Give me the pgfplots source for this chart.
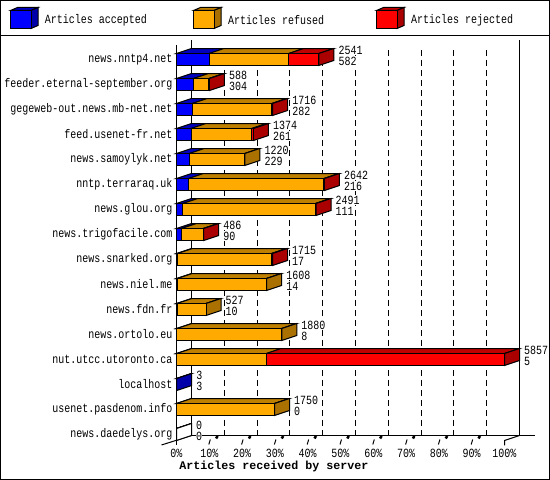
\documentclass[border=0pt]{standalone}
\usepackage{fontspec}
\setmainfont{Liberation Mono}
\newfontfamily\chartfont[FakeStretch=0.8]{Liberation Mono}
\usepackage{pgfplots}
\usepackage{pgfplotstable}
\pgfplotsset{compat=1.18}

\definecolor{bluefront}{HTML}{0000FF}
\definecolor{bluetop}{HTML}{0000BF}
\definecolor{blueside}{HTML}{0000AA}
\definecolor{orangefront}{HTML}{FFAA00}
\definecolor{orangetop}{HTML}{BF8000}
\definecolor{orangeside}{HTML}{AA7100}
\definecolor{redfront}{HTML}{FF0000}
\definecolor{redtop}{HTML}{BF0000}
\definecolor{redside}{HTML}{AA0000}

\newcommand{\smalltext}{\chartfont\fontsize{12.5}{12.5}\selectfont}

% total is what the chart prints, accepted too; the split of the rest is read off the bars
\pgfplotstableread{
row host                         accepted refused rejected total
1   news.nntp4.net               582      1423    536      2541
2   feeder.eternal-september.org 304      274     10       588
3   gegeweb-out.news.mb-net.net  282      1418    16       1716
4   feed.usenet-fr.net           261      1082    31       1374
5   news.samoylyk.net            229      991     0        1220
6   nntp.terraraq.uk             216      2416    10       2642
7   news.glou.org                111      2370    10       2491
8   news.trigofacile.com         90       388     8        486
9   news.snarked.org             17       1678    20       1715
10  news.niel.me                 14       1594    0        1608
11  news.fdn.fr                  10       517     0        527
12  news.ortolo.eu               8        1872    0        1880
13  nut.utcc.utoronto.ca         5        1600    4252     5857
14  localhost                    3        0       0        3
15  usenet.pasdenom.info         0        1750    0        1750
16  news.daedelys.org            0        0       0        0
}\servers

% depth of the fake 3D: 15px to the right and 5px up, in data units
\pgfmathsetmacro{\dx}{15/328*5857}

\newcommand{\face}[2]{% fill, list of corners
  \addplot[draw=black, line width=1pt, fill=#1] coordinates {#2} -- cycle;}

\tikzset{valuelabel/.style={anchor=west, inner xsep=0pt, inner ysep=0pt,
  minimum height=10.5pt, fill=white, xshift=4.5pt, font=\smalltext}}

\newcommand{\depthfaces}[1]{%
  \pgfplotstablegetelem{#1}{accepted}\of\servers \let\va\pgfplotsretval
  \pgfplotstablegetelem{#1}{refused}\of\servers  \let\vf\pgfplotsretval
  \pgfplotstablegetelem{#1}{rejected}\of\servers \let\vj\pgfplotsretval
  \pgfplotstablegetelem{#1}{total}\of\servers    \let\vt\pgfplotsretval
  \pgfmathsetmacro{\ft}{#1+1-0.24}% front top
  \pgfmathsetmacro{\bt}{#1+1-0.44}% back top
  \pgfmathsetmacro{\fb}{#1+1+0.24}% front bottom
  \pgfmathsetmacro{\bb}{#1+1+0.04}% back bottom
  \pgfmathsetmacro{\xa}{\va}%
  \pgfmathsetmacro{\xf}{\va+\vf}%
  \pgfmathsetmacro{\xj}{\va+\vf+\vj}%
  \pgfmathsetmacro{\bo}{\dx}%
  \pgfmathsetmacro{\bxa}{\xa+\dx}%
  \pgfmathsetmacro{\bxf}{\xf+\dx}%
  \pgfmathsetmacro{\bxj}{\xj+\dx}%
  \def\sidecolor{white}%
  \ifdim\va pt>0pt \def\sidecolor{blueside}\fi
  \ifdim\vf pt>0pt \def\sidecolor{orangeside}\fi
  \ifdim\vj pt>0pt \def\sidecolor{redside}\fi
  \edef\temp{%
    \noexpand\face{bluetop}{(0,\ft) (\xa,\ft) (\bxa,\bt) (\bo,\bt)}%
    \noexpand\face{orangetop}{(\xa,\ft) (\xf,\ft) (\bxf,\bt) (\bxa,\bt)}%
    \noexpand\face{redtop}{(\xf,\ft) (\xj,\ft) (\bxj,\bt) (\bxf,\bt)}%
    \noexpand\face{\sidecolor}{(\xj,\ft) (\bxj,\bt) (\bxj,\bb) (\xj,\fb)}%
  }\temp
  \pgfmathsetmacro{\ltop}{#1+1-0.38}%
  \pgfmathsetmacro{\lbot}{#1+1+0.06}%
  \edef\temp{%
    \noexpand\node[valuelabel] at (axis cs:\bxj,\ltop) {\vt};
    \noexpand\node[valuelabel] at (axis cs:\bxj,\lbot) {\va};
  }\temp
}

\pgfplotsset{
  every axis plot/.append style={line width=1pt},
  chartbox/.style={
    at={(176.5pt,39.5pt)}, anchor=south west,
    scale only axis, width=328pt, height=400pt,
    xmin=0, xmax=5857, ymin=0.24, ymax=16.24,
    y dir=reverse, clip=false,
  },
}

\begin{document}
\begin{tikzpicture}[line width=1pt]
\useasboundingbox (0,0) rectangle (550pt,480pt);
\begin{scope}[shift={(0pt,480pt)}, x=1pt, y=-1pt]
  \draw (0.5,0.5) rectangle (549.5,479.5);
  \draw (0,35.5) -- (550,35.5);
  % legend
  \foreach \lx/\front/\top/\side/\name in {
    10.5/bluefront/bluetop/blueside/Articles accepted,
    193.5/orangefront/orangetop/orangeside/Articles refused,
    376.5/redfront/redtop/redside/Articles rejected}{
    \draw[fill=\top] (\lx,10.5) -- ++(7,-3) -- ++(20.5,0) -- ++(-7,3) -- cycle;
    \draw[fill=\side] (\lx+20.5,10.5) -- ++(7,-3) -- ++(0,18) -- ++(-7,3) -- cycle;
    \draw[fill=\front] (\lx,10.5) rectangle ++(20.5,18);
    \node[anchor=west, inner sep=0pt, font=\smalltext] at (\lx+34,20) {\name};
  }
  % back wall and floor
  \draw (176.5,45) -- (176.5,445.5);
  \draw (191.5,40) -- (191.5,435.5);
  \draw (519.5,40) -- (519.5,435.5);
  \draw (191.5,435.5) -- (535,435.5);
  \draw (161.5,445) -- (191.5,435.5);
  \draw (504.5,445.5) -- (504.5,440.5) -- (519.5,435.5);
  \foreach \k in {1,...,9}{
    \draw[dash pattern=on 6pt off 4pt] (191.5+32.8*\k,50) -- (191.5+32.8*\k,435.5);
    \draw (176+32.8*\k,444.5) -- (177.5+32.8*\k,439.5);
    \draw[line width=2.5pt] (183.3+32.8*\k,438.5) -- (184.8+32.8*\k,436);
  }
\end{scope}

\begin{axis}[chartbox, hide axis]
  \pgfplotsforeachungrouped \r in {0,...,15}{\depthfaces{\r}}
\end{axis}

\begin{axis}[
    chartbox,
    xbar stacked,
    bar width=12pt,
    axis line style={draw=none},
    tick style={draw=none},
    major tick length=0pt,
    ytick={1,...,16},
    yticklabels from table={\servers}{host},
    yticklabel style={font=\smalltext, inner sep=0pt, xshift=-4pt},
    xtick={0,585.7,1171.4,1757.1,2342.8,2928.5,3514.2,4099.9,4685.6,5271.3,5857},
    xticklabels={0\%,10\%,20\%,30\%,40\%,50\%,60\%,70\%,80\%,90\%,100\%},
    xticklabel style={font=\smalltext, anchor=center, yshift=-12.5pt, inner sep=0pt},
    xlabel={Articles received by server},
    xlabel style={at={(axis description cs:0.297,-0.066)}, anchor=center,
      font=\fontsize{11.67}{12}\selectfont\bfseries},
  ]
  \addplot[fill=bluefront, draw=black] table[x=accepted, y=row] {\servers};
  \addplot[fill=orangefront, draw=black] table[x=refused, y=row] {\servers};
  \addplot[fill=redfront, draw=black] table[x=rejected, y=row] {\servers};
\end{axis}
\end{tikzpicture}
\end{document}
